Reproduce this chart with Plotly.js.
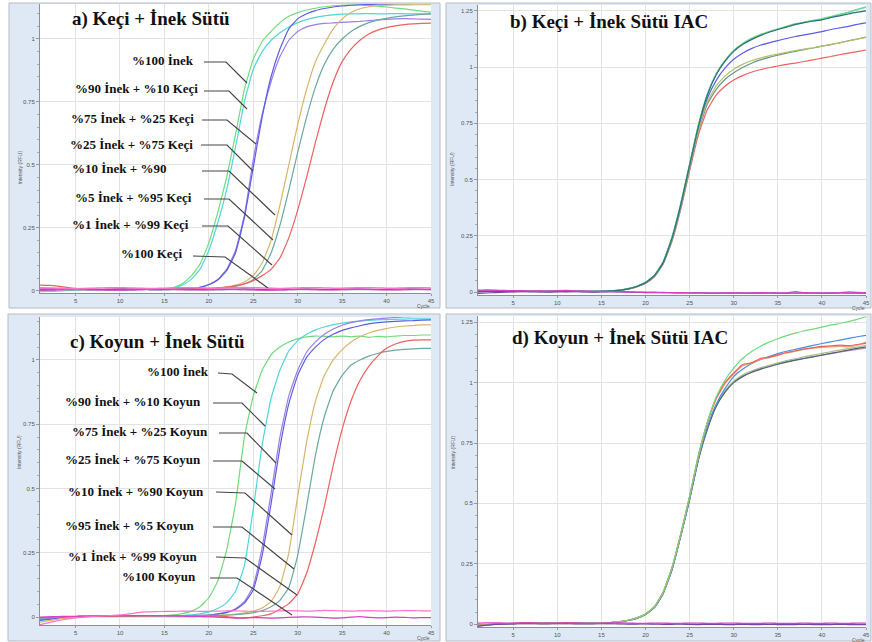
<!DOCTYPE html>
<html><head><meta charset="utf-8">
<script src="https://cdn.plot.ly/plotly-3.0.1.min.js"></script>
<style>html,body{margin:0;padding:0;background:#fff;}#chart{width:872px;height:642px;}</style>
</head><body><div id="chart"></div>
<script>
// ---------- data ----------
const cycles = [1,2,3,4,5,6,7,8,9,10,11,12,13,14,15,16,17,18,19,20,21,22,23,24,25,26,27,28,29,30,31,32,33,34,35,36,37,38,39,40,41,42,43,44,45];
const xTicks = [5,10,15,20,25,30,35,40,45];
const yTicksA = [0,0.25,0.5,0.75,1];
const yTickTextA = ['0','0.25','0.5','0.75','1'];
const yTicksB = [0,0.25,0.5,0.75,1,1.25];
const yTickTextB = ['0','0.25','0.5','0.75','1','1.25'];

const titles = ['a) Keçi + İnek Sütü','b) Keçi + İnek Sütü IAC','c) Koyun + İnek Sütü','d) Koyun + İnek Sütü IAC'];
const labelsA = ['%100 İnek','%90 İnek + %10 Keçi','%75 İnek + %25 Keçi','%25 İnek + %75 Keçi','%10 İnek + %90','%5 İnek + %95 Keçi','%1 İnek + %99 Keçi','%100 Keçi'];
const labelsC = ['%100 İnek','%90 İnek + %10 Koyun','%75 İnek + %25 Koyun','%25 İnek + %75 Koyun','%10 İnek + %90 Koyun','%95 İnek + %5 Koyun','%1 İnek + %99 Koyun','%100 Koyun'];

// panel a
const aGreen  = [-0.004,-0.003,-0.002,0,0.002,0.004,0.004,0.005,0.004,0.004,0.005,0.005,0.005,0.006,0.008,0.013,0.028,0.058,0.105,0.19,0.31,0.45,0.62,0.80,0.92,0.99,1.03,1.065,1.09,1.105,1.115,1.122,1.128,1.132,1.134,1.135,1.135,1.133,1.13,1.127,1.123,1.12,1.115,1.11,1.107];
const aCyan   = [0.003,0.003,0.004,0.004,0.004,0.005,0.004,0.004,0.005,0.005,0.004,0.005,0.005,0.005,0.007,0.011,0.022,0.045,0.085,0.16,0.27,0.40,0.57,0.75,0.88,0.95,0.995,1.025,1.048,1.065,1.077,1.086,1.092,1.096,1.099,1.10,1.10,1.101,1.10,1.10,1.101,1.10,1.10,1.10,1.10];
const aViolet = [0.004,0.005,0.005,0.006,0.005,0.005,0.004,0.004,0.005,0.005,0.004,0.004,0.005,0.005,0.005,0.005,0.006,0.008,0.014,0.025,0.045,0.085,0.16,0.30,0.52,0.70,0.83,0.93,0.995,1.03,1.048,1.057,1.062,1.064,1.066,1.068,1.07,1.073,1.076,1.078,1.08,1.081,1.08,1.079,1.078];
const aBlue   = [0.005,0.006,0.006,0.005,0.005,0.004,0.004,0.005,0.005,0.004,0.004,0.005,0.005,0.004,0.005,0.005,0.006,0.008,0.013,0.024,0.043,0.08,0.15,0.29,0.49,0.69,0.85,0.96,1.04,1.08,1.10,1.113,1.121,1.127,1.131,1.134,1.136,1.137,1.138,1.138,1.139,1.139,1.14,1.14,1.14];
const aOrange = [0.005,0.005,0.006,0.005,0.005,0.004,0.004,0.005,0.005,0.005,0.004,0.005,0.005,0.005,0.005,0.006,0.006,0.007,0.008,0.009,0.011,0.015,0.022,0.035,0.06,0.11,0.2,0.34,0.5,0.66,0.8,0.91,0.98,1.04,1.08,1.105,1.12,1.128,1.132,1.134,1.135,1.135,1.136,1.136,1.136];
const aTeal   = [0.004,0.004,0.005,0.005,0.004,0.004,0.005,0.005,0.004,0.004,0.005,0.005,0.005,0.005,0.006,0.006,0.006,0.007,0.007,0.008,0.01,0.013,0.018,0.027,0.045,0.08,0.15,0.26,0.40,0.55,0.69,0.81,0.9,0.96,1.0,1.03,1.05,1.065,1.075,1.082,1.088,1.092,1.095,1.098,1.10];
const aRed    = [0.022,0.021,0.018,0.013,0.009,0.007,0.006,0.005,0.005,0.006,0.005,0.005,0.006,0.006,0.005,0.006,0.006,0.007,0.008,0.009,0.011,0.014,0.019,0.027,0.04,0.06,0.085,0.13,0.21,0.32,0.45,0.59,0.72,0.83,0.91,0.96,0.995,1.02,1.035,1.045,1.052,1.057,1.06,1.062,1.063];
const aNegPink = [0.012,0.011,0.01,0.009,0.008,0.009,0.01,0.011,0.012,0.012,0.011,0.01,0.009,0.009,0.01,0.011,0.012,0.012,0.011,0.01,0.01,0.011,0.012,0.013,0.012,0.011,0.01,0.009,0.01,0.011,0.012,0.012,0.011,0.01,0.01,0.011,0.012,0.012,0.011,0.01,0.01,0.011,0.012,0.012,0.011];
const aNegMag  = [0.0,0.002,0.003,0.004,0.005,0.005,0.004,0.003,0.002,0.002,0.003,0.004,0.005,0.006,0.006,0.005,0.004,0.003,0.003,0.004,0.005,0.006,0.005,0.004,0.003,0.002,0.002,0.003,0.004,0.005,0.005,0.004,0.003,0.003,0.004,0.005,0.006,0.005,0.004,0.003,0.003,0.004,0.005,0.005,0.004];
const aNegPur  = [0.006,0.007,0.008,0.008,0.007,0.006,0.005,0.005,0.006,0.007,0.007,0.006,0.005,0.004,0.004,0.005,0.006,0.006,0.005,0.004,0.004,0.005,0.006,0.007,0.006,0.005,0.004,0.004,0.005,0.006,0.007,0.006,0.005,0.005,0.006,0.007,0.007,0.006,0.005,0.005,0.006,0.007,0.007,0.006,0.006];

// panel b (IAC)
const bGreen = [0.004,0.004,0.003,0.003,0.004,0.004,0.003,0.003,0.003,0.004,0.004,0.003,0.003,0.004,0.004,0.006,0.009,0.015,0.026,0.043,0.075,0.135,0.245,0.395,0.57,0.745,0.88,0.97,1.03,1.075,1.105,1.128,1.145,1.158,1.17,1.182,1.193,1.2,1.208,1.215,1.225,1.235,1.245,1.257,1.268];
const bCyan  = [0.003,0.004,0.004,0.003,0.003,0.004,0.004,0.003,0.003,0.003,0.004,0.004,0.003,0.003,0.004,0.006,0.009,0.015,0.026,0.043,0.074,0.134,0.243,0.393,0.568,0.742,0.878,0.968,1.028,1.073,1.103,1.126,1.143,1.156,1.168,1.18,1.19,1.199,1.205,1.212,1.222,1.233,1.242,1.255,1.265];
const bDTeal = [0.002,0.003,0.003,0.002,0.003,0.003,0.002,0.002,0.003,0.003,0.002,0.003,0.003,0.002,0.003,0.005,0.008,0.014,0.025,0.042,0.073,0.132,0.24,0.39,0.565,0.738,0.875,0.965,1.025,1.07,1.1,1.122,1.14,1.155,1.167,1.178,1.19,1.198,1.205,1.21,1.22,1.228,1.236,1.244,1.25];
const bBlue  = [0.003,0.003,0.003,0.004,0.004,0.003,0.003,0.003,0.004,0.004,0.003,0.003,0.003,0.004,0.004,0.005,0.008,0.014,0.025,0.042,0.072,0.13,0.238,0.385,0.565,0.735,0.86,0.94,0.995,1.035,1.062,1.082,1.097,1.108,1.118,1.127,1.136,1.143,1.15,1.158,1.167,1.174,1.181,1.19,1.197];
const bOlive = [0.003,0.003,0.004,0.004,0.003,0.003,0.003,0.004,0.004,0.003,0.003,0.003,0.004,0.004,0.003,0.005,0.008,0.013,0.024,0.04,0.07,0.128,0.232,0.378,0.555,0.72,0.845,0.915,0.96,0.99,1.012,1.028,1.04,1.05,1.058,1.066,1.073,1.08,1.086,1.093,1.1,1.108,1.116,1.124,1.132];
const bGTeal = [0.002,0.003,0.003,0.003,0.002,0.003,0.003,0.003,0.002,0.003,0.003,0.003,0.002,0.003,0.003,0.005,0.008,0.013,0.024,0.04,0.07,0.127,0.23,0.375,0.55,0.715,0.835,0.9,0.945,0.975,0.998,1.017,1.032,1.043,1.053,1.062,1.07,1.078,1.085,1.093,1.1,1.108,1.117,1.125,1.133];
const bRed   = [0.003,0.004,0.004,0.003,0.003,0.004,0.004,0.003,0.003,0.004,0.004,0.003,0.003,0.004,0.004,0.005,0.008,0.013,0.023,0.039,0.068,0.125,0.226,0.37,0.54,0.70,0.81,0.875,0.915,0.943,0.962,0.977,0.988,0.997,1.005,1.012,1.018,1.025,1.032,1.04,1.047,1.055,1.062,1.069,1.076];
const bNegMag = [0.008,0.009,0.008,0.007,0.006,0.006,0.005,0.005,0.004,0.006,0.007,0.005,0.004,0.003,0.003,0.002,0.002,0.001,0.0,0.0,-0.001,-0.002,-0.003,-0.003,-0.004,-0.004,-0.005,-0.005,-0.004,-0.004,-0.005,-0.004,-0.003,-0.004,-0.005,-0.004,0.002,-0.003,-0.004,-0.005,-0.004,-0.003,0.001,-0.002,-0.003];
const bNegPur = [-0.006,-0.004,-0.002,0,0.001,0.002,0.002,0.001,0,0.001,0.002,0.002,0.001,0,0.001,0.002,0.001,0,-0.001,-0.002,-0.002,-0.003,-0.003,-0.004,-0.004,-0.003,-0.004,-0.005,-0.005,-0.004,-0.004,-0.005,-0.005,-0.004,-0.004,-0.005,-0.005,-0.005,-0.004,-0.005,-0.005,-0.004,-0.005,-0.005,-0.005];

// panel c
const cGreen  = [-0.008,-0.004,-0.001,0.001,0.002,0.002,0.003,0.003,0.003,0.004,0.004,0.004,0.005,0.005,0.006,0.008,0.013,0.022,0.04,0.075,0.14,0.26,0.44,0.70,0.86,0.96,1.02,1.05,1.07,1.082,1.09,1.093,1.092,1.09,1.093,1.09,1.093,1.088,1.092,1.09,1.093,1.095,1.095,1.097,1.097];
const cCyan   = [-0.006,-0.003,0.0,0.001,0.002,0.003,0.003,0.003,0.004,0.004,0.004,0.004,0.005,0.005,0.005,0.006,0.006,0.008,0.012,0.02,0.033,0.055,0.1,0.2,0.42,0.67,0.85,0.96,1.035,1.075,1.1,1.117,1.128,1.137,1.143,1.148,1.151,1.154,1.156,1.157,1.158,1.159,1.16,1.16,1.16];
const cViolet = [-0.01,-0.006,-0.002,0.0,0.002,0.003,0.003,0.004,0.004,0.004,0.004,0.005,0.005,0.005,0.005,0.005,0.006,0.006,0.007,0.008,0.012,0.019,0.032,0.06,0.12,0.27,0.48,0.70,0.86,0.96,1.03,1.07,1.1,1.12,1.135,1.145,1.152,1.157,1.16,1.163,1.165,1.167,1.168,1.168,1.168];
const cBlue   = [-0.013,-0.009,-0.005,-0.002,0.0,0.002,0.003,0.003,0.004,0.004,0.004,0.004,0.005,0.005,0.005,0.005,0.005,0.006,0.006,0.007,0.011,0.017,0.029,0.054,0.105,0.24,0.44,0.66,0.83,0.94,1.01,1.05,1.08,1.1,1.115,1.125,1.133,1.14,1.145,1.148,1.15,1.152,1.153,1.155,1.156];
const cOrange = [-0.02,-0.014,-0.008,-0.004,-0.001,0.001,0.002,0.003,0.003,0.004,0.004,0.004,0.005,0.005,0.005,0.005,0.006,0.006,0.006,0.007,0.007,0.008,0.011,0.016,0.023,0.035,0.06,0.12,0.25,0.47,0.68,0.84,0.94,1.0,1.04,1.07,1.09,1.105,1.115,1.122,1.128,1.132,1.134,1.136,1.136];
const cTeal   = [-0.004,-0.002,0.0,0.001,0.002,0.003,0.003,0.003,0.004,0.004,0.004,0.004,0.005,0.005,0.005,0.005,0.005,0.006,0.006,0.006,0.006,0.007,0.009,0.012,0.017,0.025,0.04,0.065,0.115,0.24,0.43,0.63,0.78,0.88,0.94,0.98,1.0,1.015,1.025,1.033,1.038,1.041,1.043,1.045,1.045];
const cRed    = [-0.002,0.0,0.001,0.002,0.002,0.003,0.003,0.003,0.003,0.004,0.004,0.004,0.004,0.005,0.005,0.005,0.005,0.004,0.003,0.003,0.003,0.002,-0.002,-0.004,0.0,0.005,0.012,0.03,0.052,0.09,0.17,0.29,0.43,0.59,0.73,0.84,0.92,0.975,1.015,1.045,1.062,1.072,1.077,1.078,1.078];
const cNegPink = [-0.03,-0.022,-0.014,-0.008,-0.003,0.0,0.002,0.004,0.006,0.008,0.012,0.017,0.02,0.021,0.022,0.022,0.023,0.023,0.022,0.022,0.023,0.024,0.024,0.023,0.022,0.022,0.023,0.024,0.025,0.024,0.023,0.024,0.026,0.025,0.024,0.023,0.024,0.025,0.024,0.023,0.024,0.025,0.025,0.024,0.024];
const cNegMag  = [0.0,0.001,0.002,0.003,0.003,0.004,0.004,0.004,0.005,0.005,0.005,0.006,0.006,0.005,0.005,0.004,0.003,0.002,0.002,0.001,0.0,-0.002,-0.004,-0.003,-0.002,-0.003,-0.004,-0.003,-0.001,0.0,0.001,0.0,-0.002,-0.004,-0.003,0.0,0.002,-0.001,-0.003,-0.002,0.0,-0.001,-0.003,-0.002,-0.002];

// panel d (IAC)
const dGreen  = [-0.006,-0.003,0.0,0.002,0.003,0.003,0.004,0.004,0.004,0.004,0.005,0.005,0.005,0.005,0.005,0.006,0.01,0.016,0.026,0.042,0.072,0.133,0.235,0.375,0.53,0.70,0.835,0.94,1.01,1.06,1.1,1.128,1.15,1.168,1.182,1.195,1.205,1.215,1.222,1.23,1.238,1.245,1.253,1.262,1.273];
const dRed    = [-0.004,-0.002,0.0,0.002,0.003,0.004,0.004,0.004,0.005,0.005,0.005,0.005,0.005,0.005,0.005,0.006,0.01,0.016,0.026,0.042,0.072,0.133,0.235,0.375,0.53,0.70,0.835,0.935,1.0,1.04,1.075,1.082,1.1,1.105,1.115,1.125,1.132,1.14,1.145,1.15,1.152,1.155,1.153,1.158,1.163];
const dOrange = [-0.005,-0.002,0.0,0.002,0.003,0.003,0.004,0.004,0.004,0.005,0.005,0.005,0.005,0.005,0.005,0.006,0.01,0.016,0.026,0.042,0.071,0.131,0.232,0.372,0.527,0.695,0.83,0.93,0.995,1.035,1.07,1.08,1.097,1.103,1.113,1.123,1.13,1.138,1.143,1.146,1.148,1.15,1.148,1.155,1.168];
const dBlue   = [-0.008,-0.004,-0.001,0.001,0.002,0.003,0.003,0.004,0.004,0.004,0.004,0.005,0.005,0.005,0.005,0.006,0.009,0.015,0.024,0.04,0.068,0.127,0.225,0.365,0.52,0.685,0.815,0.91,0.975,1.025,1.055,1.078,1.095,1.108,1.12,1.13,1.138,1.146,1.154,1.162,1.169,1.176,1.183,1.19,1.196];
const dDTeal  = [-0.006,-0.003,0.0,0.001,0.002,0.003,0.003,0.003,0.004,0.004,0.004,0.004,0.005,0.005,0.005,0.006,0.009,0.015,0.024,0.04,0.068,0.127,0.225,0.365,0.515,0.68,0.805,0.9,0.96,1.0,1.025,1.042,1.055,1.066,1.076,1.085,1.093,1.1,1.107,1.114,1.121,1.128,1.135,1.142,1.148];
const dPurple = [-0.005,-0.002,0.0,0.001,0.002,0.003,0.003,0.003,0.004,0.004,0.004,0.004,0.004,0.005,0.005,0.006,0.009,0.015,0.024,0.04,0.069,0.128,0.227,0.367,0.518,0.683,0.808,0.903,0.963,1.003,1.028,1.045,1.058,1.068,1.078,1.087,1.094,1.101,1.108,1.114,1.12,1.126,1.132,1.138,1.143];
const dOlive  = [-0.005,-0.003,0.0,0.001,0.002,0.003,0.003,0.003,0.004,0.004,0.004,0.004,0.005,0.005,0.005,0.006,0.009,0.015,0.025,0.041,0.07,0.13,0.23,0.37,0.522,0.688,0.812,0.905,0.966,1.006,1.032,1.048,1.061,1.072,1.082,1.091,1.099,1.107,1.114,1.121,1.128,1.135,1.141,1.147,1.155];
const dNegMag = [0.004,0.005,0.005,0.004,0.004,0.005,0.005,0.004,0.004,0.004,0.005,0.005,0.004,0.004,0.004,0.005,0.005,0.004,0.003,0.003,0.004,0.004,0.003,0.003,0.004,0.004,0.003,0.003,0.004,0.004,0.003,0.003,0.003,0.004,0.003,0.003,0.003,0.004,0.003,0.003,0.004,0.003,0.003,0.004,0.004];
const dNegPur = [-0.008,-0.004,-0.001,0.0,0.001,0.002,0.002,0.001,0.001,0.002,0.002,0.001,0.001,0.001,0.002,0.002,0.001,0.0,0.0,0.001,0.0,-0.001,-0.001,0.0,-0.001,-0.002,-0.001,-0.001,-0.002,-0.002,-0.001,-0.002,-0.002,-0.001,-0.002,-0.002,-0.002,-0.001,-0.002,-0.002,-0.002,-0.001,-0.002,-0.002,-0.002];

// ---------- styles ----------
const W = 872, H = 642;
const C = {green:'#6fdc7a', cyan:'#4fd6dc', violet:'#9a7de8', blue:'#5a5ee0', orange:'#d8b56a', teal:'#6aa9a0', red:'#ee6060',
           pink:'#ff70d0', mag:'#d63fc8', pur:'#7d3fa8', dteal:'#2f6f7a', olive:'#b9bd6a', gteal:'#5e9a88', lblue:'#4a8ee0', dgray:'#4d6670', lpur:'#b08fd0', lolive:'#a9bd88', lorange:'#eea070'};

function tr(y, color, ax, w){
  return {x: cycles, y: y, type:'scatter', mode:'lines', xaxis: 'x'+ax, yaxis:'y'+ax,
          line:{color:color, width: w||1.2, shape:'spline', smoothing:0.4}, hoverinfo:'skip', showlegend:false};
}
const A = '', B = '2', Cc = '3', D = '4';
const traces = [
  tr(aGreen,C.green,A), tr(aCyan,C.cyan,A), tr(aViolet,C.violet,A), tr(aBlue,C.blue,A),
  tr(aOrange,C.orange,A), tr(aTeal,C.teal,A), tr(aRed,C.red,A),
  tr(aNegPur,C.pur,A), tr(aNegMag,C.mag,A), tr(aNegPink,C.pink,A,1.5),
  tr(bRed,C.red,B), tr(bGTeal,C.gteal,B), tr(bOlive,C.olive,B), tr(bBlue,C.blue,B),
  tr(bCyan,C.cyan,B), tr(bGreen,C.green,B), tr(bDTeal,C.dteal,B),
  tr(bNegPur,C.pur,B), tr(bNegMag,C.mag,B,1.4),
  tr(cGreen,C.green,Cc), tr(cCyan,C.cyan,Cc), tr(cViolet,C.violet,Cc), tr(cBlue,C.blue,Cc),
  tr(cOrange,C.orange,Cc), tr(cTeal,C.teal,Cc), tr(cRed,C.red,Cc),
  tr(cNegMag,C.mag,Cc), tr(cNegPink,C.pink,Cc),
  tr(dPurple,C.lpur,D), tr(dOlive,C.lolive,D), tr(dDTeal,C.dgray,D), tr(dBlue,C.lblue,D),
  tr(dOrange,C.lorange,D), tr(dRed,C.red,D), tr(dGreen,C.green,D),
  tr(dNegPur,C.pur,D), tr(dNegMag,C.mag,D,1.4)
];

// panel pixel boxes: [left, right, top, bottom] of plotting area, y range
const panels = [
  {ax:'',  box:[40,431,4,293],   yr:[-0.009,1.139], yt:yTicksA, ytt:yTickTextA, frame:[9,440,3,308]},
  {ax:'2', box:[478,866,5,295],  yr:[-0.013,1.276], yt:yTicksB, ytt:yTickTextB, frame:[446,871,3,308]},
  {ax:'3', box:[40,431,317,625], yr:[-0.031,1.167], yt:yTicksA, ytt:yTickTextA, frame:[8,440,314,641]},
  {ax:'4', box:[478,866,316,627],yr:[-0.012,1.276], yt:yTicksB, ytt:yTickTextB, frame:[446,871,314,641]}
];
const fx = p => p/W, fy = p => 1 - p/H;

const layout = {
  width:W, height:H, margin:{l:0,r:0,t:0,b:0}, paper_bgcolor:'#ffffff', plot_bgcolor:'rgba(0,0,0,0)',
  showlegend:false, shapes:[], annotations:[]
};
const tickFont = {family:'Liberation Sans, Arial, sans-serif', size:6, color:'#555'};
panels.forEach((p,i)=>{
  const [l,r,t,b] = p.box;
  layout['xaxis'+p.ax] = {domain:[fx(l),fx(r)], anchor:'y'+p.ax, range:[1,45], tickmode:'array', tickvals:xTicks,
    showgrid:true, gridcolor:'#e3e3e3', zeroline:false, showline:true, linecolor:'#8f8f8f', linewidth:1,
    ticks:'outside', ticklen:2, tickcolor:'#999', tickfont:tickFont, fixedrange:true};
  layout['yaxis'+p.ax] = {domain:[fy(b),fy(t)], anchor:'x'+p.ax, range:p.yr, tickmode:'array', tickvals:p.yt, ticktext:p.ytt,
    showgrid:true, gridcolor:'#e3e3e3', zeroline:false, showline:true, linecolor:'#8f8f8f', linewidth:1,
    ticks:'outside', ticklen:3, tickcolor:'#999', tickfont:tickFont, fixedrange:true,
    minor:{ticks:'outside', ticklen:2, tickcolor:'#aaa', dtick:0.05, showgrid:false}};
  const [fl,fr,ft,fb] = p.frame;
  layout.shapes.push({type:'rect', xref:'paper', yref:'paper', x0:fx(fl), x1:fx(fr), y0:fy(fb), y1:fy(ft),
    fillcolor:'#dfe8f5', line:{color:'#b4bcc6', width:1}, layer:'below'});
  layout.shapes.push({type:'rect', xref:'paper', yref:'paper', x0:fx(l), x1:fx(r), y0:fy(b), y1:fy(t),
    fillcolor:'#ffffff', line:{width:0}, layer:'below'});
  // axis titles
  layout.annotations.push({xref:'paper', yref:'paper', x:fx(l-26), y:fy((t+b)/2), text:'Intensity (RFU)', textangle:-90,
    showarrow:false, font:{family:'Liberation Sans, Arial, sans-serif', size:5, color:'#555'}});
  layout.annotations.push({xref:'paper', yref:'paper', x:fx(r+1), y:fy(b+13), text:'Cycle', xanchor:'right', yanchor:'middle',
    showarrow:false, font:{family:'Liberation Sans, Arial, sans-serif', size:5, color:'#555'}});
});

// titles
const titlePos = [[70,19],[508,22],[68,342],[510,338]];
const serif = 'Liberation Serif, Times New Roman, serif';
titles.forEach((t,i)=>{
  layout.annotations.push({xref:'paper', yref:'paper', x:fx(titlePos[i][0]), y:fy(titlePos[i][1]), xanchor:'left', yanchor:'middle',
    text:t, showarrow:false, font:{family:serif, size:19, color:'#111', weight:'bold'}});
});

// curve labels + leader lines
const labPosA = [[130,60],[73,89],[69,118],[68,144],[70,168],[73,197],[70,224],[119,254]];
const leadA = [[[204,62],[226,62],[247,83]],[[204,91],[229,91],[247,109]],[[202,120],[227,120],[256,144]],[[201,145],[227,145],[253,171]],
               [[202,171],[229,171],[275,215]],[[204,199],[229,199],[273,240]],[[202,226],[228,226],[272,265]],[[193,256],[225,257],[268,288]]];
const labPosC = [[145,372],[63,401],[70,431],[63,459],[66,491],[63,525],[66,556],[120,576]];
const leadC = [[[218,373],[232,374],[257,393]],[[213,403],[242,403],[265,426]],[[219,433],[247,433],[276,463]],[[213,461],[242,461],[275,489]],
               [[216,492],[245,493],[292,535]],[[213,527],[242,527],[294,569]],[[216,557],[245,558],[297,595]],[[210,578],[237,578],[292,615]]];
function addLabels(labels, pos, leads){
  labels.forEach((t,i)=>{
    layout.annotations.push({xref:'paper', yref:'paper', x:fx(pos[i][0]), y:fy(pos[i][1]), xanchor:'left', yanchor:'middle',
      text:t, showarrow:false, font:{family:serif, size:13, color:'#111', weight:'bold'}});
    const pts = leads[i];
    const path = 'M '+pts.map(q=>fx(q[0])+','+fy(q[1])).join(' L ');
    layout.shapes.push({type:'path', xref:'paper', yref:'paper', path:path, line:{color:'#454545', width:1.2}, layer:'above'});
  });
}
addLabels(labelsA, labPosA, leadA);
addLabels(labelsC, labPosC, leadC);

Plotly.newPlot('chart', traces, layout, {staticPlot:true, displayModeBar:false});
</script>
</body></html>
